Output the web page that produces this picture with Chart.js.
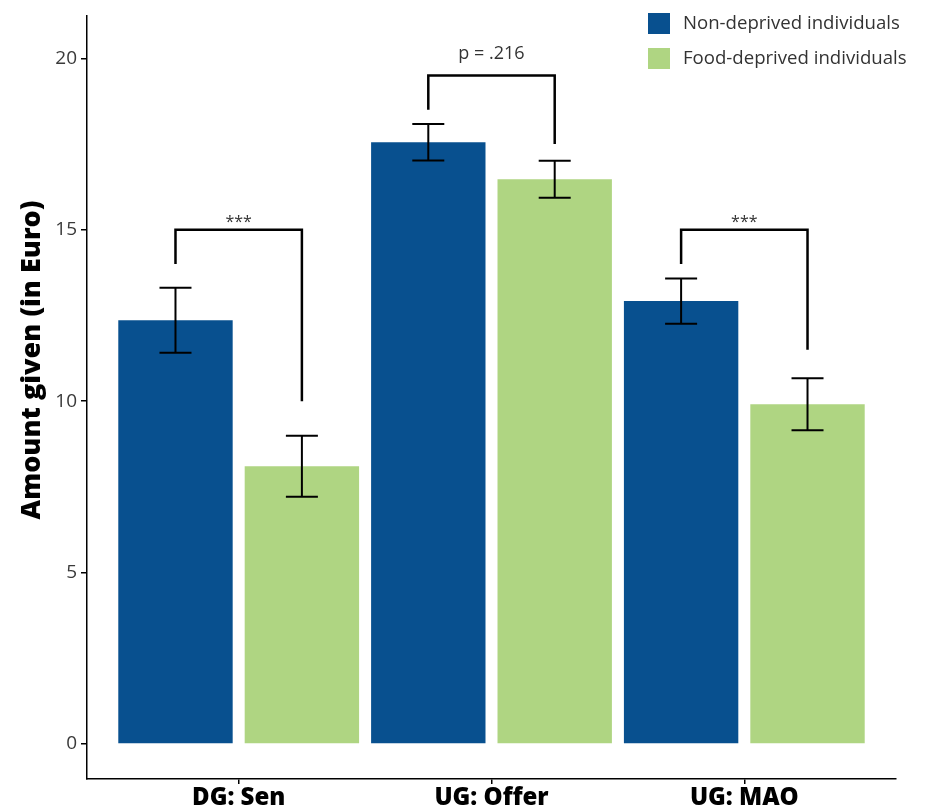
<!DOCTYPE html>
<html>
<head>
<meta charset="utf-8">
<script src="https://cdn.jsdelivr.net/npm/chart.js@4/dist/chart.umd.min.js"></script>
<style>
  html, body { margin: 0; padding: 0; background: #fff; }
  #wrap { width: 926px; height: 809px; position: relative; }
</style>
</head>
<body>
<div id="wrap"><canvas id="chart" width="926" height="809"></canvas></div>
<script>
// Mean amounts given (Euro) with standard errors, per game / condition
const categories = ['DG: Sen', 'UG: Offer', 'UG: MAO'];
const seriesNames = ['Non-deprived individuals', 'Food-deprived individuals'];
const nonDeprived = [12.36, 17.55, 12.92];
const nonDeprivedSE = [0.95, 0.53, 0.66];
const foodDeprived = [8.10, 16.47, 9.91];
const foodDeprivedSE = [0.89, 0.54, 0.76];

// Significance brackets: top level, left leg end, right leg end, label
const bracketTop = [15, 19.5, 15];
const bracketLeftEnd = [14, 18.5, 14];
const bracketRightEnd = [10, 17.5, 11.5];
const bracketLabels = ['***', 'p = .216', '***'];

const yTicks = [0, 5, 10, 15, 20];

const BLUE = '#08508f';
const GREEN = '#afd582';
const FONT = '"Open Sans", Lato, sans-serif';

const overlay = {
  id: 'overlay',
  afterDatasetsDraw(chart) {
    const ctx = chart.ctx;
    const y = chart.scales.y;
    const metas = [chart.getDatasetMeta(0), chart.getDatasetMeta(1)];
    const ses = [nonDeprivedSE, foodDeprivedSE];
    const vals = [nonDeprived, foodDeprived];

    ctx.save();
    // error bars
    ctx.strokeStyle = '#000';
    ctx.lineWidth = 2;
    metas.forEach((meta, d) => {
      meta.data.forEach((bar, i) => {
        const hi = y.getPixelForValue(vals[d][i] + ses[d][i]);
        const lo = y.getPixelForValue(vals[d][i] - ses[d][i]);
        const x = bar.x;
        const cap = 16;
        ctx.beginPath();
        ctx.moveTo(x, hi); ctx.lineTo(x, lo);
        ctx.moveTo(x - cap, hi); ctx.lineTo(x + cap, hi);
        ctx.moveTo(x - cap, lo); ctx.lineTo(x + cap, lo);
        ctx.stroke();
      });
    });

    // significance brackets
    ctx.lineWidth = 2.5;
    ctx.lineJoin = 'miter';
    categories.forEach((c, i) => {
      const xl = metas[0].data[i].x;
      const xr = metas[1].data[i].x;
      const yt = y.getPixelForValue(bracketTop[i]);
      ctx.beginPath();
      ctx.moveTo(xl, y.getPixelForValue(bracketLeftEnd[i]));
      ctx.lineTo(xl, yt);
      ctx.lineTo(xr, yt);
      ctx.lineTo(xr, y.getPixelForValue(bracketRightEnd[i]));
      ctx.stroke();
      ctx.fillStyle = '#333';
      ctx.textAlign = 'center';
      ctx.textBaseline = 'alphabetic';
      const isStars = bracketLabels[i].startsWith('*');
      ctx.font = (isStars ? '16px ' : '18px ') + FONT;
      ctx.fillText(bracketLabels[i], (xl + xr) / 2, yt - (isStars ? 3 : 16));
    });

    // legend
    const colors = [BLUE, GREEN];
    ctx.font = '18.6px ' + FONT;
    ctx.textAlign = 'left';
    ctx.textBaseline = 'middle';
    seriesNames.forEach((n, k) => {
      const top = 13 + k * 35;
      ctx.fillStyle = colors[k];
      ctx.fillRect(648, top, 22, 21);
      ctx.fillStyle = '#333';
      ctx.fillText(n, 683, top + 11);
    });

    // y axis title
    ctx.translate(32, 360);
    ctx.rotate(-Math.PI / 2);
    ctx.fillStyle = '#000';
    ctx.font = '800 27px ' + FONT;
    ctx.textAlign = 'center';
    ctx.textBaseline = 'middle';
    ctx.fillText('Amount given (in Euro)', 0, 0);
    ctx.restore();
  }
};

new Chart(document.getElementById('chart'), {
  type: 'bar',
  data: {
    datasets: [
      {
        label: seriesNames[0],
        data: categories.map((c, i) => ({ x: i + 1, y: nonDeprived[i] })),
        backgroundColor: BLUE
      },
      {
        label: seriesNames[1],
        data: categories.map((c, i) => ({ x: i + 1, y: foodDeprived[i] })),
        backgroundColor: GREEN
      }
    ]
  },
  options: {
    responsive: false,
    animation: false,
    events: [],
    categoryPercentage: 1.0,
    barPercentage: 0.905,
    layout: { padding: { left: 0, right: 30, top: 15, bottom: 0 } },
    plugins: {
      legend: { display: false },
      tooltip: { enabled: false },
      title: { display: false }
    },
    scales: {
      x: {
        type: 'linear',
        min: 0.4,
        max: 3.6,
        offset: false,
        afterBuildTicks: (s) => { s.ticks = categories.map((c, i) => ({ value: i + 1 })); },
        afterFit: (s) => { s.height = 30; },
        grid: { display: true, offset: false, drawOnChartArea: false, drawTicks: true, tickLength: 5, color: '#000', lineWidth: 1.5 },
        border: { display: true, color: '#000', width: 1.5 },
        ticks: {
          padding: 0,
          color: '#000',
          font: { family: FONT, size: 24, weight: '800' },
          callback: (v) => categories[v - 1] || ''
        }
      },
      y: {
        min: -1.02,
        max: 21.25,
        afterBuildTicks: (s) => { s.ticks = yTicks.map(v => ({ value: v })); },
        afterFit: (s) => { s.width = 87; },
        grid: { display: true, drawOnChartArea: false, drawTicks: true, tickLength: 6, color: '#000', lineWidth: 1.5 },
        border: { display: true, color: '#000', width: 1.5 },
        ticks: {
          padding: 4,
          color: '#3a3a3a',
          font: { family: FONT, size: 19 }
        }
      }
    }
  },
  plugins: [overlay]
});
</script>
</body>
</html>
